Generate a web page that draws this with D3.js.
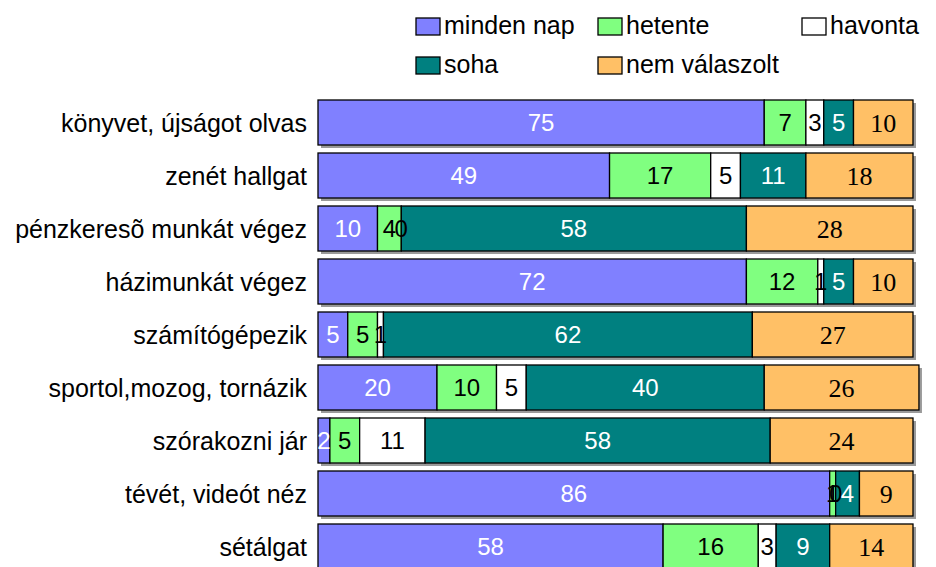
<!DOCTYPE html>
<html>
<head>
<meta charset="utf-8">
<script src="https://cdn.jsdelivr.net/npm/d3@7"></script>
<style>
  body { margin: 0; background: #fff; }
  svg { display: block; }
  text { font-family: Arial, "Liberation Sans", sans-serif; }
</style>
</head>
<body>
<div id="wrapper"></div>
<script>
const categories = [
  "könyvet, újságot olvas",
  "zenét hallgat",
  "pénzkeresõ munkát végez",
  "házimunkát végez",
  "számítógépezik",
  "sportol,mozog, tornázik",
  "szórakozni jár",
  "tévét, videót néz",
  "sétálgat"
]
const seriesNames = ["minden nap", "hetente", "havonta", "soha", "nem válaszolt"]
const mindenNap = [75, 49, 10, 72, 5, 20, 2, 86, 58]
const hetente = [7, 17, 4, 12, 5, 10, 5, 1, 16]
const havonta = [3, 5, 0, 1, 1, 5, 11, 0, 3]
const soha = [5, 11, 58, 5, 62, 40, 58, 4, 9]
const nemValaszolt = [10, 18, 28, 10, 27, 26, 24, 9, 14]

const colors = ["#8080ff", "#80ff80", "#ffffff", "#008080", "#ffc066"]
const labelColors = ["#fff", "#000", "#000", "#fff", "#000"]
const sans = "Arial, 'Liberation Sans', sans-serif"
const serif = "'Times New Roman', 'Liberation Serif', serif"
const labelFonts = [sans, sans, sans, sans, serif]

const allSeries = [mindenNap, hetente, havonta, soha, nemValaszolt]
const rows = categories.map((c, i) => {
  const row = { category: c }
  seriesNames.forEach((s, j) => row[s] = allSeries[j][i])
  return row
})
const stacked = d3.stack().keys(seriesNames)(rows)

const dimensions = { width: 936, height: 567 }

const wrapper = d3.select("#wrapper")
  .append("svg")
    .attr("width", dimensions.width)
    .attr("height", dimensions.height)

const xScale = d3.scaleLinear()
  .domain([0, 100])
  .range([318, 913])

const pad = 8 / 53
const yScale = d3.scaleBand()
  .domain(categories)
  .range([96, 573])
  .paddingInner(pad)
  .paddingOuter(pad / 2)

// shadows
wrapper.append("g")
  .selectAll("rect")
  .data(rows)
  .enter().append("rect")
    .attr("x", d => xScale(0) + 3)
    .attr("y", d => yScale(d.category) + 3)
    .attr("width", d => xScale(d3.sum(seriesNames, s => d[s])) - xScale(0))
    .attr("height", yScale.bandwidth())
    .attr("fill", "#9a9a9a")

const layers = wrapper.append("g")
  .selectAll("g")
  .data(stacked)
  .enter().append("g")
    .attr("fill", (d, i) => colors[i])

layers.selectAll("rect")
  .data(d => d)
  .enter().append("rect")
    .attr("x", d => xScale(d[0]))
    .attr("y", d => yScale(d.data.category))
    .attr("width", d => xScale(d[1]) - xScale(d[0]))
    .attr("height", yScale.bandwidth())
    .attr("stroke", "#000")
    .attr("stroke-width", 1.3)

// value labels
stacked.forEach((layer, i) => {
  wrapper.append("g")
    .selectAll("text")
    .data(layer)
    .enter().append("text")
      .attr("x", d => (xScale(d[0]) + xScale(d[1])) / 2)
      .attr("y", d => yScale(d.data.category) + yScale.bandwidth() / 2)
      .attr("dy", "0.36em")
      .attr("text-anchor", "middle")
      .style("font-family", labelFonts[i])
      .attr("font-size", i === 4 ? 26 : 24)
      .attr("fill", labelColors[i])
      .text(d => d[1] - d[0])
})

// category labels
wrapper.append("g")
  .selectAll("text")
  .data(categories)
  .enter().append("text")
    .attr("x", 307)
    .attr("y", d => yScale(d) + yScale.bandwidth() / 2)
    .attr("dy", "0.36em")
    .attr("text-anchor", "end")
    .attr("font-size", 25)
    .text(d => d)

// legend
const legendPos = [[416, 18], [598, 18], [802, 18], [416, 57], [598, 57]]
const legend = wrapper.append("g")
  .selectAll("g")
  .data(seriesNames)
  .enter().append("g")
    .attr("transform", (d, i) => `translate(${legendPos[i][0]}, ${legendPos[i][1]})`)

legend.append("rect")
  .attr("width", 24)
  .attr("height", 17)
  .attr("fill", (d, i) => colors[i])
  .attr("stroke", "#000")
  .attr("stroke-width", 1.3)

legend.append("text")
  .attr("x", 28)
  .attr("y", 16)
  .attr("font-size", 25)
  .text(d => d)
</script>
</body>
</html>
